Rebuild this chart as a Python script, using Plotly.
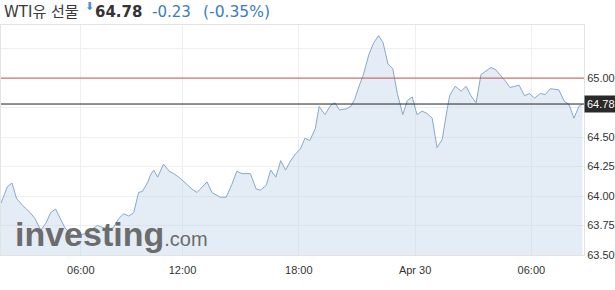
import pandas as pd
import plotly.graph_objects as go

# ---------------- data ----------------
title_text = "WTI유 선물"
last_price = 64.78
ref_level = 65.00
change_text = "-0.23"
change_pct_text = "(-0.35%)"

# minutes after 2019-04-29 00:00
minutes = [113, 133, 147, 161, 180, 203, 218, 228, 236, 252, 267, 282, 295, 311, 329, 350,
           426, 456, 487, 505, 523, 538, 554, 569, 584, 596, 613, 621, 631, 643, 661, 679,
           693, 713, 737, 753, 765, 778, 796, 811, 837, 855, 873, 888, 904, 930, 948, 961,
           979, 993, 1009, 1024, 1039, 1055, 1071, 1085, 1099, 1114, 1131, 1143, 1161, 1179,
           1192, 1206, 1228, 1241, 1253, 1269, 1279, 1297, 1312, 1327, 1341, 1356, 1371, 1385,
           1392, 1402, 1416, 1431, 1446, 1462, 1477, 1493, 1508, 1524, 1539, 1547, 1555, 1564,
           1583, 1598, 1613, 1629, 1644, 1660, 1675, 1690, 1707, 1721, 1734, 1762, 1779, 1794,
           1810, 1828, 1843, 1859, 1885, 1903, 1916, 1932, 1947, 1958]
prices = [63.94, 64.08, 64.11, 63.98, 63.92, 63.86, 63.81, 63.75, 63.71, 63.77, 63.86, 63.89,
          63.82, 63.73, 63.68, 63.66,
          63.69, 63.75, 63.72, 63.73, 63.81, 63.85, 63.83, 63.86, 64.03, 64.04, 64.12, 64.18,
          64.22, 64.16, 64.27, 64.21, 64.19, 64.15, 64.09, 64.05, 64.03, 64.07, 64.12, 64.03,
          63.99, 63.99, 64.10, 64.21, 64.19, 64.19, 64.06, 64.05, 64.09, 64.22, 64.16, 64.30,
          64.22, 64.30, 64.36, 64.40, 64.49, 64.47, 64.57, 64.76, 64.69, 64.77, 64.79, 64.73,
          64.74, 64.76, 64.82, 64.95, 65.02, 65.20, 65.30, 65.36, 65.30, 65.12, 65.08, 64.87,
          64.79, 64.69, 64.81, 64.84, 64.69, 64.72, 64.70, 64.66, 64.41, 64.48, 64.73, 64.85,
          64.89, 64.93, 64.89, 64.93, 64.85, 64.79, 65.03, 65.06, 65.09, 65.07, 65.02, 64.97,
          64.92, 64.94, 64.85, 64.87, 64.83, 64.87, 64.86, 64.91, 64.90, 64.80, 64.78, 64.66,
          64.76, 64.78]

x_tick_times = ["2019-04-29 06:00", "2019-04-29 12:00", "2019-04-29 18:00",
                "2019-04-30 00:00", "2019-04-30 06:00"]
x_tick_labels = ["06:00", "12:00", "18:00", "Apr 30", "06:00"]
y_tick_values = [63.50, 63.75, 64.00, 64.25, 64.50, 64.75, 65.00, 65.25]
y_tick_labels = ["63.50", "63.75", "64.00", "64.25", "64.50", "", "65.00", ""]
x_range = ["2019-04-29 01:53", "2019-04-30 08:43"]
y_range = [63.5, 65.45]
session_break = "2019-04-29 06:15"
session_break_ms = 45 * 60 * 1000

times = pd.Timestamp("2019-04-29") + pd.to_timedelta(minutes, unit="min")

# ---------------- figure ----------------
fig = go.Figure()
fig.add_trace(go.Scatter(
    x=times, y=prices, mode="lines",
    line=dict(color="#87a9cc", width=1),
    fill="tozeroy", fillcolor="rgba(190,210,232,0.42)",
    hoverinfo="skip", showlegend=False,
))

fig.add_shape(type="line", xref="paper", x0=0, x1=1, yref="y", y0=ref_level, y1=ref_level,
              line=dict(color="#c4564f", width=1))
fig.add_shape(type="line", xref="paper", x0=0, x1=1, yref="y", y0=last_price, y1=last_price,
              line=dict(color="#222222", width=1))

tick_font = dict(family="Arial, Liberation Sans, sans-serif", size=11, color="#333333")

fig.update_xaxes(
    type="date", range=x_range,
    rangebreaks=[dict(values=[session_break], dvalue=session_break_ms)],
    tickvals=x_tick_times, ticktext=x_tick_labels, tickfont=tick_font,
    showgrid=True, gridcolor="#efefef", gridwidth=1,
    showline=True, linecolor="#e3e3e3", linewidth=1, mirror=True,
    ticks="", zeroline=False, ticklabelstandoff=5,
)
fig.update_yaxes(
    range=y_range, side="right",
    tickvals=y_tick_values, ticktext=y_tick_labels, tickfont=tick_font,
    showgrid=True, gridcolor="#efefef", gridwidth=1,
    showline=True, linecolor="#e3e3e3", linewidth=1, mirror=True,
    ticks="", zeroline=False,
)

head_font = "DejaVu Sans, Noto Sans CJK KR, sans-serif"
ann = [
    dict(text=title_text, x=1 / 585, y=1.056, xanchor="left", yanchor="middle",
         font=dict(family=head_font, size=15, color="#3a3a3a")),
    dict(text="⬇", x=82 / 585, y=1.08, xanchor="left", yanchor="middle",
         font=dict(family=head_font, size=11, color="#4f8fd6")),
    dict(text=f"<b>{last_price:.2f}</b>", x=92 / 585, y=1.056, xanchor="left", yanchor="middle",
         font=dict(family=head_font, size=15, color="#333333")),
    dict(text=change_text, x=150 / 585, y=1.056, xanchor="left", yanchor="middle",
         font=dict(family=head_font, size=15, color="#3a7cc3")),
    dict(text=change_pct_text, x=201 / 585, y=1.056, xanchor="left", yanchor="middle",
         font=dict(family=head_font, size=15.5, color="#3a7cc3")),
    dict(text="<b>investing</b><span style='font-size:20px;font-weight:normal'>.com</span>",
         x=12 / 585, y=0.09, xanchor="left", yanchor="middle",
         font=dict(family="Arial, Liberation Sans, sans-serif", size=34, color="#6c6c6c")),
    dict(text=f"{last_price:.2f}", xref="paper", x=1.0, yref="y", y=last_price,
         xanchor="left", yanchor="middle", bgcolor="#2a2a2a", borderpad=2,
         font=dict(family="Arial, Liberation Sans, sans-serif", size=11, color="#ffffff")),
]
for a in ann:
    a.setdefault("xref", "paper")
    a.setdefault("yref", "paper")
    a["showarrow"] = False
    fig.add_annotation(**a)

fig.update_layout(
    width=615, height=290,
    margin=dict(l=0, r=30, t=25, b=35),
    paper_bgcolor="white", plot_bgcolor="white",
    showlegend=False, hovermode=False,
)

fig.write_html("out.html")
